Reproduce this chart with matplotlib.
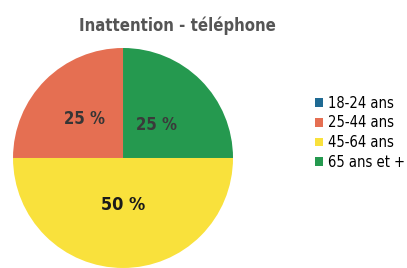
import matplotlib
matplotlib.use('Agg')
import matplotlib.pyplot as plt
import numpy as np

# données
categories = ['18-24 ans', '25-44 ans', '45-64 ans', '65 ans et +']
values = [0, 25, 50, 25]
colors = ['#1f6a93', '#e56f52', '#f9e13c', '#25994f']
title = 'Inattention - téléphone'

FONT = ['Liberation Sans Narrow', 'DejaVu Sans']

fig = plt.figure(figsize=(4.07, 2.68), dpi=100)
fig.patch.set_facecolor('white')

ax = fig.add_axes([0.032, 0.0, 0.5405, 0.821])
wedges, _ = ax.pie(values, colors=colors, startangle=90, counterclock=True,
                   wedgeprops=dict(linewidth=0))
ax.set_xlim(-1, 1)
ax.set_ylim(-1, 1)
ax.set_aspect('equal')

# étiquettes de pourcentage
dist = [0, 0.50, 0.43, 0.43]
sizes = [0, 12, 13, 12]
tcol = ['k', '#353535', '#1a1a1a', '#3a3a3a']
for w, v, d, fs, c in zip(wedges, values, dist, sizes, tcol):
    if v == 0:
        continue
    ang = np.deg2rad((w.theta1 + w.theta2) / 2)
    ax.text(d * np.cos(ang), d * np.sin(ang), f'{v} %', ha='center', va='center',
            fontsize=fs, fontweight='bold', color=c, family=FONT,
            fontstretch='condensed')

fig.text(0.437, 0.905, title, ha='center', va='center', fontsize=12,
         fontweight='semibold', color='#555555', family=FONT, fontstretch='condensed')

leg = fig.legend(wedges, categories, loc='upper left', bbox_to_anchor=(0.76, 0.665),
                 frameon=False, handlelength=0.55, handleheight=0.55,
                 handletextpad=0.3, labelspacing=0.33, borderaxespad=0,
                 prop=dict(family=FONT, size=10.5, stretch='condensed'))

fig.savefig('out.png', dpi=100)
